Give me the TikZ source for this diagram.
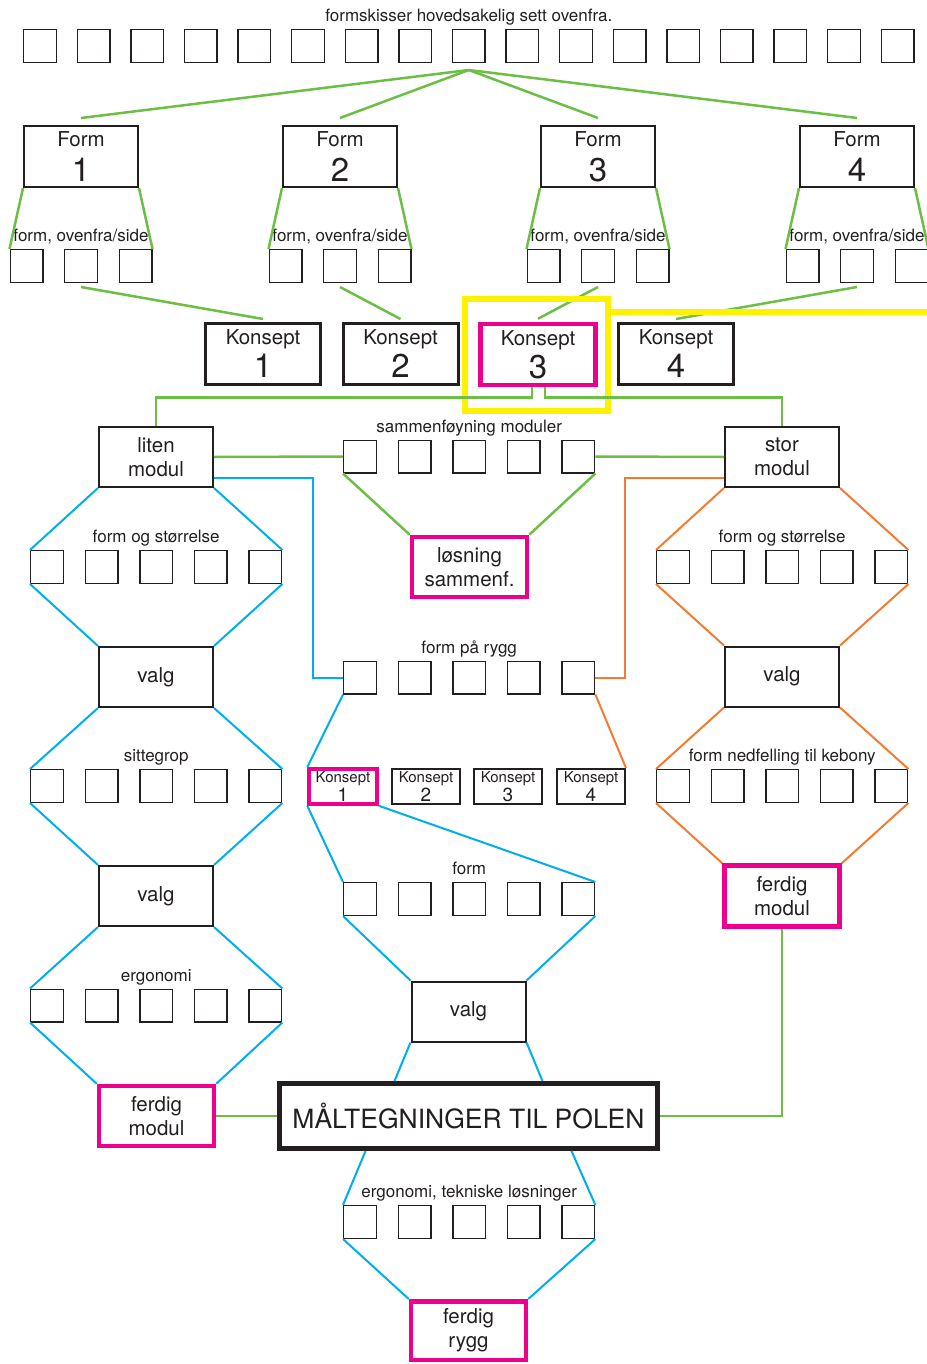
\documentclass[tikz,border=0pt]{standalone}
\usepackage{fontspec}
\setmainfont{TeX Gyre Heros}
\definecolor{ink}{HTML}{231F20}
\definecolor{lgreen}{HTML}{6DBE45}
\definecolor{lblue}{HTML}{00AEEF}
\definecolor{lorange}{HTML}{F47B32}
\definecolor{lpink}{HTML}{EC008C}
\definecolor{lyellow}{HTML}{FFF200}
\newcommand{\bignum}[1]{{\fontsize{33}{33}\selectfont #1}}
\newcommand{\smallnum}[1]{{\fontsize{19}{19}\selectfont #1}}
\tikzset{
  sq/.style={draw=ink, line width=1.4pt, minimum size=32.6pt, inner sep=0pt},
  lbl/.style={text=ink, font=\fontsize{17}{18}\selectfont, inner sep=0pt},
  box/.style={draw=ink, line width=2pt, minimum width=114pt, minimum height=60pt,
    align=center, text=ink, font=\fontsize{20.5}{24}\selectfont, inner sep=0pt},
  formbox/.style={box, minimum height=61pt, font=\fontsize{20.5}{35}\selectfont},
  konsept/.style={box, line width=3pt, minimum width=115pt, minimum height=61pt,
    font=\fontsize{20.5}{33}\selectfont},
  smallk/.style={box, minimum width=68pt, minimum height=35pt,
    font=\fontsize{15}{18.5}\selectfont},
  done/.style={box, draw=lpink, line width=4.5pt, minimum width=115pt},
  gline/.style={draw=lgreen, line width=2.5pt},
  bline/.style={draw=lblue, line width=2pt},
  oline/.style={draw=lorange, line width=2pt},
  yline/.style={draw=lyellow, line width=6pt},
}
% fem skisser paa rad, med tekst over
\newcommand{\sqrow}[4]{%
  \foreach \i in {1,...,5}
    \node[sq] (#1\i) at ({#2+(\i-1)*54.6},#3) {};
  \node[lbl, anchor=base] (#1lbl) at ([yshift=7.5pt]#13.north) {#4};
}
\begin{document}
\begin{tikzpicture}[x=1pt,y=-1pt]
\useasboundingbox (0,0) rectangle (926,1364);

% formskisser
\foreach \i in {1,...,17}
  \node[sq] (t\i) at ({40+(\i-1)*53.6},46) {};
\node[lbl, anchor=base] (tlbl) at ([yshift=7.5pt]t9.north) {formskisser hovedsakelig sett ovenfra.};
\coordinate (hub) at ([yshift=-7pt]t9.south);

% form 1-4
\foreach \k/\x in {1/81,2/340,3/598,4/857} {
  \node[formbox] (f\k) at (\x,156.5) {Form\\\bignum{\k}};
  \foreach \j in {1,2,3}
    \node[sq] (f\k-\j) at ({\x+(\j-2)*54.5},266) {};
  \node[lbl, anchor=base] (f\k lbl) at ([yshift=7.5pt]f\k-2.north) {form, ovenfra/side};
  \draw[gline] (f\k.south west) -- (f\k-1.north west);
  \draw[gline] (f\k.south east) -- (f\k-3.north east);
  \draw[gline] (hub) -- ([yshift=7pt]f\k.north);
}

% konsepter
\foreach \k/\x in {1/263,2/400.5,4/676}
  \node[konsept] (k\k) at (\x,354) {Konsept\\\bignum{\k}};
\node[konsept, draw=lpink, line width=4.5pt] (k3) at (538,354.5) {Konsept\\\bignum{3}};
\foreach \k in {1,...,4}
  \draw[gline] ([yshift=-4pt]f\k-2.south) -- ([yshift=3pt]k\k.north);

% valgt konsept
\node[draw=lyellow, line width=6pt, minimum width=143pt, minimum height=112pt, inner sep=0pt] (mark) at (536.5,355) {};
\coordinate (markend) at (930,312);
\draw[yline] (markend -| mark.east) -- (markend);

% moduler
\node[box] (liten) at (156,457) {liten\\modul};
\node[box] (stor) at (782,457) {stor\\modul};
\draw[gline] ([xshift=-6pt]k3.south) -- ++(0,10) -| (liten.north);
\draw[gline] ([xshift=7pt]k3.south) -- ++(0,10) -| (stor.north);

% sammenfoyning
\sqrow{sm}{360}{456.5}{sammenføyning moduler}
\node[done] (los) at (469.5,567) {løsning\\sammenf.};
\draw[gline] (liten.east) -- (sm1.west);
\draw[gline] (sm5.east) -- (stor.west);
\draw[gline] (sm1.south west) -- (los.north west);
\draw[gline] (sm5.south east) -- (los.north east);

% liten modul
\sqrow{ls}{47}{567}{form og størrelse}
\node[box] (lv1) at (156,677) {valg};
\sqrow{lg}{47}{786}{sittegrop}
\node[box] (lv2) at (156,896) {valg};
\sqrow{le}{47}{1005.5}{ergonomi}
\node[done] (lferdig) at (156.5,1116) {ferdig\\modul};
\draw[bline] (liten.south west) -- (ls1.north west);
\draw[bline] (liten.south east) -- (ls5.north east);
\draw[bline] (ls1.south west) -- (lv1.north west);
\draw[bline] (ls5.south east) -- (lv1.north east);
\draw[bline] (lv1.south west) -- (lg1.north west);
\draw[bline] (lv1.south east) -- (lg5.north east);
\draw[bline] (lg1.south west) -- (lv2.north west);
\draw[bline] (lg5.south east) -- (lv2.north east);
\draw[bline] (lv2.south west) -- (le1.north west);
\draw[bline] (lv2.south east) -- (le5.north east);
\draw[bline] (le1.south west) -- (lferdig.north west);
\draw[bline] (le5.south east) -- (lferdig.north east);

% stor modul
\sqrow{rs}{673}{567}{form og størrelse}
\node[box] (rv) at (782,676.5) {valg};
\sqrow{rk}{673}{786}{form nedfelling til kebony}
\node[done, minimum height=61pt] (rferdig) at (782,896) {ferdig\\modul};
\draw[oline] (stor.south west) -- (rs1.north west);
\draw[oline] (stor.south east) -- (rs5.north east);
\draw[oline] (rs1.south west) -- (rv.north west);
\draw[oline] (rs5.south east) -- (rv.north east);
\draw[oline] (rv.south west) -- (rk1.north west);
\draw[oline] (rv.south east) -- (rk5.north east);
\draw[oline] (rk1.south west) -- (rferdig.north west);
\draw[oline] (rk5.south east) -- (rferdig.north east);

% rygg
\sqrow{pr}{360}{677.5}{form på rygg}
\draw[bline] ([yshift=10pt]liten.south east) -- ++(99,0) |- (pr1.west);
\draw[oline] ([yshift=10pt]stor.south west) -- ++(-99,0) |- (pr5.east);
\node[smallk, draw=lpink, line width=3.5pt] (sk1) at (343,786.5) {Konsept\\\smallnum{1}};
\foreach \k/\x in {2/426,3/508,4/591}
  \node[smallk] (sk\k) at (\x,786.5) {Konsept\\\smallnum{\k}};
\draw[bline] (pr1.south west) -- (sk1.north west);
\draw[oline] (pr5.south east) -- (sk4.north east);
\sqrow{fm}{360}{899}{form}
\node[box] (valgm) at (468.5,1011.5) {valg};
\draw[bline] (sk1.south west) -- (fm1.north west);
\draw[bline] (sk1.south east) -- (fm5.north east);
\draw[bline] (fm1.south west) -- (valgm.north west);
\draw[bline] (fm5.south east) -- (valgm.north east);

% maaltegninger
\node[box, line width=5pt, minimum width=378pt, minimum height=65pt,
  font=\fontsize{26.5}{30}\selectfont] (maal) at (468.5,1116) {MÅLTEGNINGER TIL POLEN};
\draw[bline] (valgm.south west) -- ([xshift=-74pt]maal.north);
\draw[bline] (valgm.south east) -- ([xshift=74pt]maal.north);
\draw[gline] (lferdig.east) -- (maal.west);
\draw[gline] (rferdig.south) |- (maal.east);

\sqrow{er}{360}{1222}{ergonomi, tekniske løsninger}
\node[done, minimum height=58.5pt] (rygg) at (468.5,1330.5) {ferdig\\rygg};
\draw[bline] ([xshift=-103pt]maal.south) -- (er1.north west);
\draw[bline] ([xshift=103pt]maal.south) -- (er5.north east);
\draw[bline] (er1.south west) -- (rygg.north west);
\draw[bline] (er5.south east) -- (rygg.north east);
\end{tikzpicture}
\end{document}
